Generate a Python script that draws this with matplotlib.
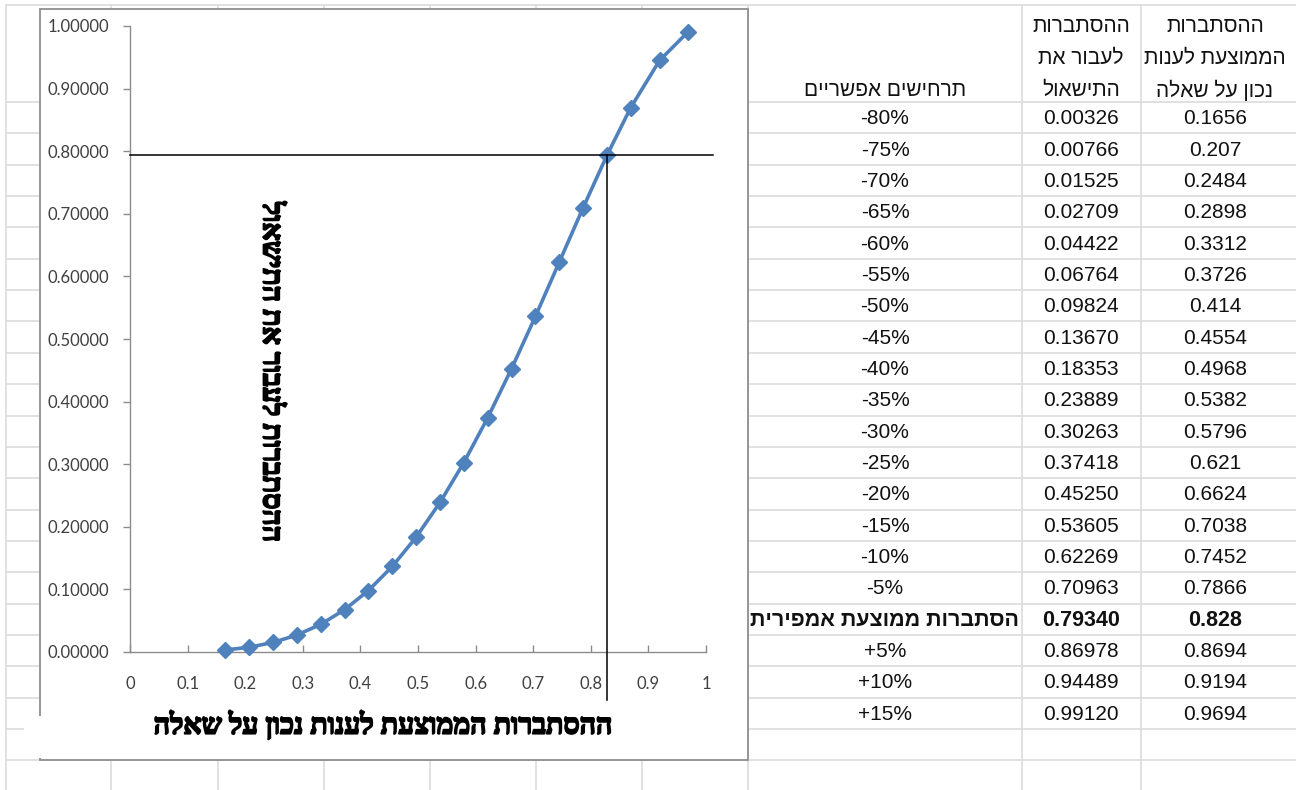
import matplotlib
matplotlib.use('Agg')
import matplotlib.pyplot as plt
from matplotlib.patches import Rectangle
import matplotlib.patheffects as pe

# ---------------- data ----------------
scenarios = ['-80%', '-75%', '-70%', '-65%', '-60%', '-55%', '-50%', '-45%',
             '-40%', '-35%', '-30%', '-25%', '-20%', '-15%', '-10%', '-5%',
             'הסתברות ממוצעת אמפירית', '+5%', '+10%', '+15%']
pass_prob = [0.00326, 0.00766, 0.01525, 0.02709, 0.04422, 0.06764, 0.09824,
             0.13670, 0.18353, 0.23889, 0.30263, 0.37418, 0.45250, 0.53605,
             0.62269, 0.70963, 0.79340, 0.86978, 0.94489, 0.99120]
avg_prob = [0.1656, 0.207, 0.2484, 0.2898, 0.3312, 0.3726, 0.414, 0.4554,
            0.4968, 0.5382, 0.5796, 0.621, 0.6624, 0.7038, 0.7452, 0.7866,
            0.828, 0.8694, 0.9194, 0.9694]
empirical_index = 16

header_scen = ['תרחישים אפשריים']
header_pass = ['ההסתברות', 'לעבור את', 'התישאול']
header_avg = ['ההסתברות', 'הממוצעת לענות', 'נכון על שאלה']
x_title = 'ההסתברות הממוצעת לענות נכון על שאלה'
y_title = 'ההסתברות לעבור את התישאול'
y_ticks = [0.0, 0.1, 0.2, 0.3, 0.4, 0.5, 0.6, 0.7, 0.8, 0.9, 1.0]
x_ticks = [0, 0.1, 0.2, 0.3, 0.4, 0.5, 0.6, 0.7, 0.8, 0.9, 1]
x_tick_labels = ['0', '0.1', '0.2', '0.3', '0.4', '0.5', '0.6', '0.7', '0.8', '0.9', '1']


def rtl(s):
    """matplotlib has no bidi support: reverse Hebrew strings for display."""
    if any('\u0590' <= ch <= '\u05ff' for ch in s):
        return s[::-1]
    return s


# ---------------- figure ----------------
W, H = 1296, 790
fig = plt.figure(figsize=(W / 100, H / 100), dpi=100)
fig.patch.set_facecolor('white')

bg = fig.add_axes([0, 0, 1, 1])
bg.set_xlim(0, W)
bg.set_ylim(H, 0)
bg.axis('off')

grid_color = '#dcdcdc'
col_x = [6, 111, 218, 324, 430, 536, 642, 748, 1022, 1141]
row_h = 31.35
row_y = [5] + [102 + row_h * k for k in range(22)]
for x in col_x:
    bg.plot([x, x], [5, H], color=grid_color, lw=1.2, zorder=1)
for y in row_y:
    bg.plot([6, W], [y, y], color=grid_color, lw=1.2, zorder=1)

# chart area
bg.add_patch(Rectangle((40, 9), 708, 751, facecolor='white',
                       edgecolor='#8e8e8e', lw=1.3, zorder=2))
# x-axis title box
bg.add_patch(Rectangle((24, 716), 719, 42, facecolor='white',
                       edgecolor='none', zorder=3))

title_font = dict(family=['Liberation Serif', 'DejaVu Sans'],
                  fontweight='bold', fontsize=20.5, color='black',
                  path_effects=[pe.withStroke(linewidth=1.3, foreground='black')])
bg.text(383, 725, rtl(x_title), ha='center', va='center', zorder=4, **title_font)
bg.text(270, 372, rtl(y_title), ha='center', va='center', rotation=-90,
        zorder=4, **title_font)

# ---------------- table ----------------
tfont = dict(family=['Liberation Sans', 'DejaVu Sans'], color='#111111')
c1, c2, c3 = 885, 1081, 1215
bg.text(c1, 91, rtl(header_scen[0]), ha='center', va='center', zorder=4,
        fontsize=15, **tfont)
for i, (a, b) in enumerate(zip(header_pass, header_avg)):
    yy = 27 + 31.5 * i
    bg.text(c2, yy, rtl(a), ha='center', va='center', zorder=4, fontsize=15, **tfont)
    bg.text(c3, yy, rtl(b), ha='center', va='center', zorder=4, fontsize=15, **tfont)

for k, (s, p, a) in enumerate(zip(scenarios, pass_prob, avg_prob)):
    yy = 102 + row_h * k + row_h / 2 + 1
    if k == empirical_index:
        kw = dict(fontweight='bold', fontsize=15.5)
    else:
        kw = dict(fontweight='normal', fontsize=15)
    bg.text(c1, yy, rtl(s), ha='center', va='center', zorder=4, **kw, **tfont)
    bg.text(c2, yy, f'{p:.5f}', ha='center', va='center', zorder=4, **kw, **tfont)
    bg.text(c3, yy, f'{a:g}', ha='center', va='center', zorder=4, **kw, **tfont)

# ---------------- chart ----------------
ax = fig.add_axes([130 / W, (H - 652) / H, 576 / W, 626 / H], zorder=5)
ax.patch.set_alpha(0)
ax.set_xlim(0, 1)
ax.set_ylim(0, 1)
for sp in ['top', 'right']:
    ax.spines[sp].set_visible(False)
for sp in ['left', 'bottom']:
    ax.spines[sp].set_color('#8c8c8c')
    ax.spines[sp].set_linewidth(1.0)

ax.set_yticks(y_ticks)
ax.set_yticklabels([f'{v:.5f}' for v in y_ticks])
ax.set_xticks(x_ticks)
ax.set_xticklabels(x_tick_labels)
tick_font = ['Lato', 'DejaVu Sans']
for lab in ax.get_xticklabels() + ax.get_yticklabels():
    lab.set_family(tick_font)
    lab.set_fontsize(12)
    lab.set_color('#404040')
ax.tick_params(axis='y', direction='out', length=5, width=1, color='#8c8c8c', pad=10)
ax.tick_params(axis='x', direction='in', length=5, width=1, color='#8c8c8c', pad=17)

ax.plot(avg_prob, pass_prob, color='#4F81BD', lw=2.6, marker='D', markersize=8.5,
        markeredgecolor='#4F81BD', zorder=3, clip_on=False)

# guide lines at the empirical point
ex, ey = avg_prob[empirical_index], pass_prob[empirical_index]
ax.plot([0, 1.012], [ey, ey], color='black', lw=1.1, clip_on=False, zorder=4)
ax.plot([ex, ex], [ey, -0.077], color='black', lw=1.1, clip_on=False, zorder=4)

fig.savefig('out.png', dpi=100, facecolor='white')
